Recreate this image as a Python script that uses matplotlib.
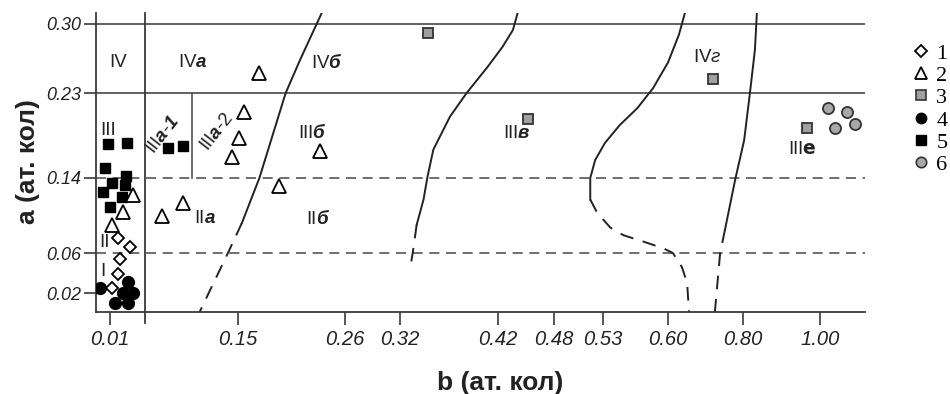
import numpy as np
import matplotlib
matplotlib.use('Agg')
from matplotlib import pyplot as plt
from matplotlib.lines import Line2D

plt.rcParams['font.family'] = ['Liberation Sans', 'DejaVu Sans']
plt.rcParams['mathtext.fontset'] = 'custom'
plt.rcParams['mathtext.rm'] = 'Liberation Sans'
plt.rcParams['mathtext.bfit'] = 'Liberation Sans:bold:italic'
plt.rcParams['mathtext.it'] = 'Liberation Sans:italic'

# tick values of the (non-uniform) axes
b_ticks = [0.01, 0.15, 0.26, 0.32, 0.42, 0.48, 0.53, 0.60, 0.80, 1.00]
a_ticks = [0.02, 0.06, 0.14, 0.23, 0.30]

# group 1 - open diamonds
b1 = [0.019, 0.032, 0.021, 0.019, 0.012]
a1 = [0.076, 0.066, 0.054, 0.039, 0.025]
# group 2 - open triangles
b2 = [0.035, 0.024, 0.012, 0.067, 0.090, 0.172, 0.156, 0.151, 0.143, 0.192, 0.234]
a2 = [0.122, 0.104, 0.090, 0.100, 0.113, 0.250, 0.210, 0.182, 0.162, 0.131, 0.169]
# group 3 - grey squares
b3 = [0.349, 0.452, 0.720, 0.966]
a3 = [0.291, 0.203, 0.244, 0.193]
# group 4 - black circles
b4 = [-0.001, 0.030, 0.024, 0.035, 0.0155, 0.030]
a4 = [0.025, 0.031, 0.020, 0.020, 0.010, 0.010]
# group 5 - black squares
b5 = [0.008, 0.029, 0.0045, 0.028, 0.012, 0.026, 0.002, 0.023, 0.010, 0.073, 0.090]
a5 = [0.176, 0.177, 0.151, 0.142, 0.135, 0.133, 0.125, 0.120, 0.109, 0.172, 0.174]
# group 6 - grey circles
b6 = [1.021, 1.070, 1.091, 1.039]
a6 = [0.214, 0.210, 0.197, 0.193]

# boundary curves: solid part, dashed part
c1_b = [0.236, 0.214, 0.199, 0.172, 0.154]
c1_a = [0.311, 0.264, 0.230, 0.140, 0.092]
c1d_b = [0.154, 0.139, 0.108]
c1d_a = [0.092, 0.060, 0.001]

c2_b = [0.441, 0.436, 0.425, 0.409, 0.388, 0.371, 0.354, 0.348, 0.344, 0.337]
c2_a = [0.311, 0.294, 0.277, 0.256, 0.230, 0.205, 0.170, 0.141, 0.117, 0.090]
c2d_b = [0.337, 0.333, 0.330]
c2d_a = [0.090, 0.060, 0.043]

c3_b = [0.645, 0.629, 0.600, 0.584, 0.567, 0.548, 0.532, 0.522, 0.517, 0.517]
c3_a = [0.311, 0.289, 0.261, 0.235, 0.214, 0.196, 0.177, 0.159, 0.140, 0.117]
c3d_b = [0.517, 0.524, 0.538, 0.552, 0.577, 0.595, 0.613, 0.637, 0.651, 0.656]
c3d_a = [0.117, 0.103, 0.087, 0.079, 0.071, 0.065, 0.060, 0.046, 0.030, 0.001]

c4_b = [0.836, 0.831, 0.818, 0.803, 0.779, 0.752]
c4_a = [0.311, 0.274, 0.230, 0.180, 0.138, 0.085]
c4d_b = [0.752, 0.739, 0.725]
c4d_a = [0.085, 0.060, 0.001]

# region labels: (text, b, a, rotation)
regions = [
    ('IV', 0.019, 0.2605, 0),
    ('IV$\\mathbfit{a}$', 0.101, 0.2605, 0),
    ('IV$\\mathbfit{б}$', 0.2415, 0.2605, 0),
    ('IV$\\mathit{г}$', 0.704, 0.2665, 0),
    ('III', 0.008, 0.1908, 0),
    ('III$\\mathbfit{a}$-$\\mathbfit{1}$', 0.068, 0.1855, 52),
    ('III$\\mathbfit{a}$-2', 0.127, 0.1887, 52),
    ('III$\\mathbfit{б}$', 0.227, 0.1887, 0),
    ('III$\\mathbfit{в}$', 0.440, 0.1876, 0),
    ('III$\\mathbf{е}$', 0.953, 0.1697, 0),
    ('II', 0.0045, 0.0717, 0),
    ('I', 0.0023, 0.041, 0),
    ('II$\\mathbfit{a}$', 0.114, 0.0973, 0),
    ('II$\\mathbfit{б}$', 0.232, 0.0973, 0),
]

# screen geometry of the axes (pixel columns / rows of the ticks)
b_pos = [110, 238, 345, 400, 498, 554, 603, 668, 743, 820]
a_pos = [394 - y for y in [293, 253, 178, 93, 24]]


def piecewise(xp, fp):
    xp = np.asarray(xp, float)
    fp = np.asarray(fp, float)

    def f(x):
        x = np.asarray(x, float)
        y = np.interp(x, xp, fp)
        y = np.where(x < xp[0], fp[0] + (x - xp[0]) * (fp[1] - fp[0]) / (xp[1] - xp[0]), y)
        y = np.where(x > xp[-1], fp[-1] + (x - xp[-1]) * (fp[-1] - fp[-2]) / (xp[-1] - xp[-2]), y)
        return y
    return f


fig = plt.figure(figsize=(9.5, 3.94), dpi=100)
ax = fig.add_axes([96 / 950, 82 / 394, (865 - 96) / 950, (381 - 82) / 394])
ax.set_xscale('function', functions=(piecewise(b_ticks, b_pos), piecewise(b_pos, b_ticks)))
ax.set_yscale('function', functions=(piecewise(a_ticks, a_pos), piecewise(a_pos, a_ticks)))
bx = piecewise(b_pos, b_ticks)
ay = piecewise(a_pos, a_ticks)
b_lo, b_hi = float(bx(96)), float(bx(865))
a_lo, a_hi = float(ay(82)), float(ay(381))
ax.set_xlim(b_lo, b_hi)
ax.set_ylim(a_lo, a_hi)

lc = '#3a3a3a'
for sp in ['top', 'right']:
    ax.spines[sp].set_visible(False)
for sp in ['left', 'bottom']:
    ax.spines[sp].set_color(lc)
    ax.spines[sp].set_linewidth(1.3)

# grid lines
ax.axhline(0.30, color='#555555', lw=1.3)
ax.axhline(0.23, color='#555555', lw=1.3)
ax.axhline(0.14, color='#555555', lw=1.2, ls=(0, (6, 4)))
ax.axhline(0.06, color='#555555', lw=1.2, ls=(0, (6, 4)))
ax.plot([0.048, 0.048], [a_hi, ay(71)], color=lc, lw=1.3, clip_on=False)
ax.plot([0.0998, 0.0998], [0.23, 0.14], color='#555555', lw=1.2)

# boundary curves
for sb, sa, db, da in [(c1_b, c1_a, c1d_b, c1d_a), (c2_b, c2_a, c2d_b, c2d_a),
                       (c3_b, c3_a, c3d_b, c3d_a), (c4_b, c4_a, c4d_b, c4d_a)]:
    ax.plot(sb, sa, color='#222222', lw=1.4)
    ax.plot(db, da, color='#222222', lw=1.4, ls=(0, (7, 5)))

# points
ax.plot(b1, a1, 'D', ms=6.5, mfc='white', mec='black', mew=1.3, ls='none', zorder=5)
ax.plot(b2, a2, '^', ms=10, mfc='white', mec='black', mew=1.3, ls='none', zorder=5)
ax.plot(b3, a3, 's', ms=7, mfc='#a0a0a0', mec='#333333', mew=1.3, ls='none', zorder=5)
ax.plot(b4, a4, 'o', ms=8.5, mfc='black', mec='black', ls='none', zorder=4)
ax.plot(b5, a5, 's', ms=7.5, mfc='black', mec='black', ls='none', zorder=4)
ax.plot(b6, a6, 'o', ms=8, mfc='#a8a8a8', mec='#333333', mew=1.3, ls='none', zorder=5)

for txt, b, a, rot in regions:
    ax.text(b, a, txt, ha='center', va='center', rotation=rot, fontsize=13.5,
            color='#222222', zorder=6)

# ticks
ax.set_xticks(b_ticks)
ax.set_xticklabels(['%.2f' % v for v in b_ticks], fontstyle='italic', fontsize=14.5,
                   family=['Liberation Sans Narrow', 'Liberation Sans'])
ax.set_yticks(a_ticks)
ax.set_yticklabels(['%.2f' % v for v in a_ticks], fontstyle='italic', fontsize=13)
ax.tick_params(axis='both', length=9, width=1.2, color=lc, labelcolor='#222222')
ax.tick_params(axis='x', pad=4)
ax.tick_params(axis='y', pad=2)

fig.text(500 / 950, 1 - 383 / 394, 'b (ат. кол)', ha='center', va='center',
         fontsize=19, fontweight='bold', color='#222222')
fig.text(28 / 950, 1 - 162 / 394, 'a (ат. кол)', ha='center', va='center', rotation=90,
         fontsize=19, fontweight='bold', color='#222222')

# legend
handles = [
    Line2D([], [], marker='D', ms=6, mfc='white', mec='black', mew=1.3, ls='none'),
    Line2D([], [], marker='^', ms=9, mfc='white', mec='black', mew=1.3, ls='none'),
    Line2D([], [], marker='s', ms=6.5, mfc='#a0a0a0', mec='#333333', mew=1.2, ls='none'),
    Line2D([], [], marker='o', ms=7.5, mfc='black', mec='black', ls='none'),
    Line2D([], [], marker='s', ms=6.5, mfc='black', mec='black', ls='none'),
    Line2D([], [], marker='o', ms=7.5, mfc='#a8a8a8', mec='#333333', mew=1.2, ls='none'),
]
fig.legend(handles, ['1', '2', '3', '4', '5', '6'], loc='upper left',
           bbox_to_anchor=(913 / 950, 1 - 43 / 394), frameon=False,
           prop={'family': 'Liberation Serif', 'size': 16}, handlelength=0.75,
           handletextpad=0.3, labelspacing=0.08, borderpad=0, borderaxespad=0)

fig.savefig('out.png', dpi=100)
